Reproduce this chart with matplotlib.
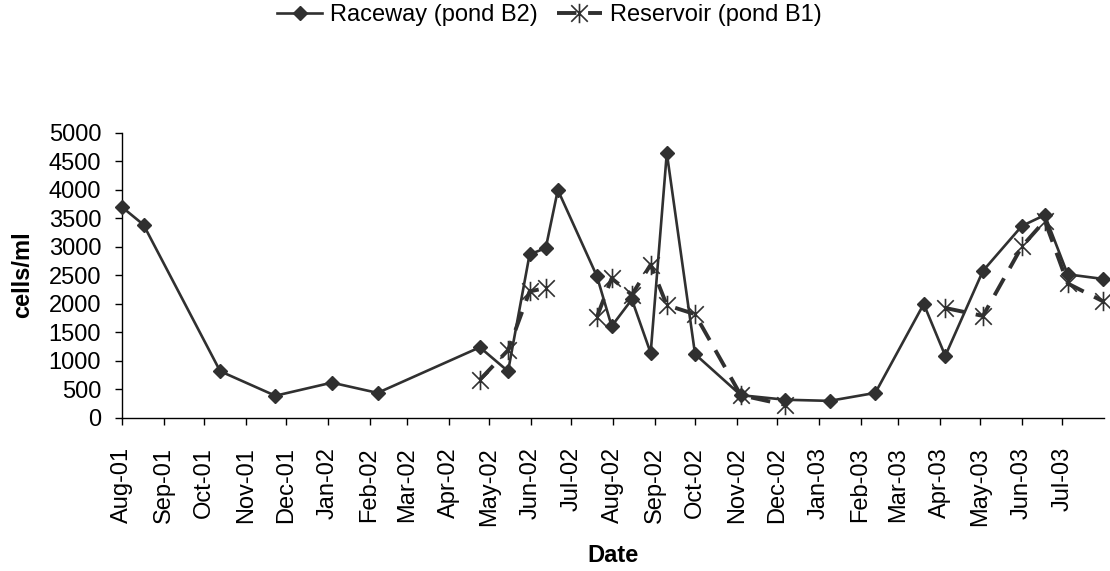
import numpy as np
import pandas as pd
import matplotlib
matplotlib.use("Agg")
import matplotlib.pyplot as plt
import matplotlib.dates as mdates
from matplotlib.path import Path

# sampling dates, shared by both ponds
SAMPLE_DATES = [
    "2001-08-01", "2001-08-17", "2001-10-13", "2001-11-23", "2002-01-04",
    "2002-02-07", "2002-04-24", "2002-05-15", "2002-05-31", "2002-06-12",
    "2002-06-21", "2002-07-20", "2002-07-31", "2002-08-15", "2002-08-29",
    "2002-09-10", "2002-10-01", "2002-11-04", "2002-12-07", "2003-01-09",
    "2003-02-12", "2003-03-20", "2003-04-05", "2003-05-03", "2003-06-01",
    "2003-06-18", "2003-07-05", "2003-07-31",
]

# cells/ml, nan = not sampled
RACEWAY_B2 = [
    3700, 3390, 820, 390, 620,
    440, 1240, 820, 2870, 2980,
    4000, 2490, 1610, 2080, 1140,
    4650, 1120, 400, 320, 300,
    440, 2000, 1090, 2580, 3370,
    3560, 2520, 2440,
]
RESERVOIR_B1 = [
    np.nan, np.nan, np.nan, np.nan, np.nan,
    np.nan, 670, 1190, 2220, 2280,
    np.nan, 1770, 2450, 2160, 2690,
    1980, 1820, 400, 230, np.nan,
    np.nan, np.nan, 1930, 1790, 3010,
    3460, 2360, 2050,
]

Y_TICKS = list(range(0, 5001, 500))
LINE_COLOR = "#303030"
FONT_SIZE = 17

plt.rcParams["font.family"] = ["Liberation Sans", "DejaVu Sans"]

# Excel-style star: a vertical bar through an X
star = Path(
    [(0, -1), (0, 1), (-0.85, -0.85), (0.85, 0.85), (-0.85, 0.85), (0.85, -0.85)],
    [Path.MOVETO, Path.LINETO, Path.MOVETO, Path.LINETO, Path.MOVETO, Path.LINETO],
)

dates = pd.to_datetime(SAMPLE_DATES)
raceway = np.array(RACEWAY_B2, dtype=float)
reservoir = np.array(RESERVOIR_B1, dtype=float)

fig = plt.figure(figsize=(11.1, 5.71), dpi=100)
ax = fig.add_axes([0.1099, 0.2680, 0.8847, 0.4991])

ax.plot(dates, raceway, color=LINE_COLOR, linewidth=1.9, marker="D",
        markersize=7, markerfacecolor=LINE_COLOR, markeredgecolor=LINE_COLOR,
        label="Raceway (pond B2)", clip_on=False, zorder=3)
ax.plot(dates, reservoir, color=LINE_COLOR, linewidth=2.8, dashes=(5, 3),
        marker=star, markersize=14, markeredgewidth=1.2,
        markeredgecolor=LINE_COLOR, markerfacecolor="none",
        label="Reservoir (pond B1)", clip_on=False, zorder=2)

ax.set_xlim(pd.Timestamp("2001-08-01"), pd.Timestamp("2003-08-01"))
ax.set_ylim(0, 5000)
ax.set_yticks(Y_TICKS)
ax.set_xticks(pd.date_range("2001-08-01", "2003-07-01", freq="MS"))
ax.xaxis.set_major_formatter(mdates.DateFormatter("%b-%y"))

for side in ["top", "right"]:
    ax.spines[side].set_visible(False)
for side in ["left", "bottom"]:
    ax.spines[side].set_color("black")
    ax.spines[side].set_linewidth(1.0)

ax.tick_params(axis="y", direction="out", length=5, width=1,
               labelsize=FONT_SIZE, pad=10)
ax.tick_params(axis="x", direction="out", length=5, width=1,
               labelsize=FONT_SIZE, pad=16, labelrotation=90)

fig.text(23 / 1110, 1 - 275 / 571, "cells/ml", rotation=90, ha="center",
         va="center", fontsize=FONT_SIZE, fontweight="bold")
fig.text(613 / 1110, 1 - 555 / 571, "Date", ha="center", va="center",
         fontsize=FONT_SIZE, fontweight="bold")

fig.legend(loc="center", bbox_to_anchor=(0.495, 1 - 15 / 571), ncol=2,
           frameon=False, fontsize=FONT_SIZE, handlelength=1.9,
           handletextpad=0.35, columnspacing=0.8, borderpad=0)

fig.savefig("out.png", dpi=100)
